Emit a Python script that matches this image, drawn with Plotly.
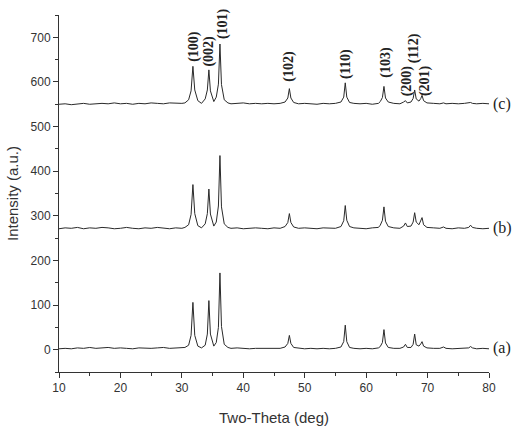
import plotly.graph_objects as go

# Shared 2-theta sample positions (deg)
two_theta = [10, 11, 12, 13, 14, 15, 16, 17, 18, 19, 20, 21, 22, 23, 24, 25, 26, 27, 28, 29, 30,
             30.5, 31.1, 31.5, 31.8, 32.1, 32.6, 33.2, 33.8, 34.15, 34.4, 34.65, 35.2, 35.6, 35.95, 36.2, 36.45, 36.9,
             37.5, 38, 39, 40, 41, 42, 43, 44, 45, 46, 46.8, 47.25, 47.5, 47.75, 48.2, 49, 50, 51, 52, 53, 54, 55,
             55.9, 56.35, 56.6, 56.85, 57.3, 58, 59, 60, 61, 62, 62.3, 62.65, 62.9, 63.15, 63.6, 64.5, 65.5,
             66.1, 66.4, 66.7, 67.3, 67.65, 67.9, 68.15, 68.6, 68.9, 69.1, 69.35, 69.9, 71, 72, 72.6, 73,
             74, 75, 76, 76.7, 77, 77.3, 78, 79, 80]

intensity_a = [2, 3, 2, 4, 3, 5, 3, 4, 5, 3, 4, 3, 2, 4, 3, 3, 4, 5, 3, 4, 4,
               5, 10, 32, 106, 32, 8, 4, 10, 35, 110, 35, 8, 16, 50, 172, 52, 12,
               5, 3, 4, 3, 2, 3, 3, 2, 3, 3, 6, 14, 32, 14, 5, 3, 2, 3, 2, 3, 2, 3,
               6, 18, 55, 18, 5, 3, 2, 3, 2, 4, 7, 16, 45, 15, 5, 3, 3,
               6, 12, 5, 5, 12, 35, 11, 8, 13, 18, 8, 4, 3, 3, 6, 3,
               2, 3, 3, 4, 7, 4, 2, 3, 2]

intensity_b = [271, 273, 272, 274, 271, 273, 272, 274, 273, 271, 272, 274, 272, 271, 273, 272, 274, 272, 271, 273, 272,
               274, 280, 303, 370, 305, 278, 273, 282, 305, 360, 304, 277, 286, 322, 435, 320, 282,
               274, 272, 273, 271, 272, 273, 272, 271, 273, 272, 276, 285, 305, 285, 275, 272, 273, 272, 271, 273, 272, 272,
               276, 289, 323, 290, 276, 273, 272, 271, 273, 274, 279, 290, 320, 288, 276, 273, 272,
               277, 284, 276, 277, 286, 307, 286, 280, 288, 296, 280, 274, 273, 272, 275, 272,
               271, 273, 272, 274, 279, 274, 272, 271, 272]

intensity_c = [550, 551, 549, 551, 552, 550, 551, 552, 551, 553, 551, 552, 550, 552, 551, 553, 552, 551, 553, 552, 552,
               553, 560, 580, 635, 582, 558, 552, 562, 582, 627, 580, 556, 566, 595, 685, 594, 560,
               553, 551, 552, 553, 551, 552, 551, 552, 551, 552, 555, 564, 585, 564, 554, 551, 552, 551, 550, 552, 551, 552,
               555, 566, 598, 566, 554, 552, 551, 552, 550, 552, 556, 565, 590, 564, 555, 552, 551,
               555, 558, 553, 555, 563, 582, 562, 557, 563, 570, 558, 553, 552, 551, 553, 551,
               552, 551, 552, 553, 554, 552, 551, 552, 551]

series_labels = ["(a)", "(b)", "(c)"]
series_offsets = [3, 272, 551]

peak_labels = ["(100)", "(002)", "(101)", "(102)", "(110)", "(103)", "(200)", "(112)", "(201)"]
peak_label_x = [32.0, 34.4, 36.8, 47.5, 56.6, 63.3, 66.6, 67.9, 69.5]
peak_label_y = [679, 670, 731, 635, 641, 644, 603, 675, 603]

fig = go.Figure()
for ys in (intensity_a, intensity_b, intensity_c):
    fig.add_trace(go.Scatter(x=two_theta, y=ys, mode="lines",
                             line=dict(color="#2a2a2a", width=1), showlegend=False,
                             hoverinfo="skip"))

for lab, yo in zip(series_labels, series_offsets):
    fig.add_annotation(x=1.005, xref="paper", y=yo, yref="y", text=lab, showarrow=False,
                       xanchor="left", yanchor="middle",
                       font=dict(family="Liberation Serif", size=16, color="#222"))

for lab, px, py in zip(peak_labels, peak_label_x, peak_label_y):
    fig.add_annotation(x=px, y=py, text="<b>%s</b>" % lab, showarrow=False, textangle=-90,
                       xanchor="center", yanchor="middle",
                       font=dict(family="Liberation Serif", size=14, color="#222"))

axis_common = dict(showline=True, linecolor="#333", linewidth=1, ticks="outside", ticklen=5,
                   tickwidth=1, tickcolor="#333", showgrid=False, zeroline=False, mirror=False,
                   tickfont=dict(family="Liberation Sans", size=12, color="#333"))

fig.update_xaxes(range=[10, 80], tickvals=[10, 20, 30, 40, 50, 60, 70, 80],
                 minor=dict(ticks="outside", ticklen=3, tickcolor="#333", dtick=5, tick0=5),
                 title=dict(text="Two-Theta (deg)", font=dict(family="Liberation Sans", size=15, color="#333"),
                            standoff=18),
                 **axis_common)
fig.update_yaxes(range=[-50, 750], tickvals=[0, 100, 200, 300, 400, 500, 600, 700],
                 minor=dict(ticks="outside", ticklen=3, tickcolor="#333", dtick=50, tick0=50),
                 title=dict(text="Intensity (a.u.)", font=dict(family="Liberation Sans", size=15, color="#333"),
                            standoff=8),
                 **axis_common)

fig.update_layout(width=531, height=436, margin=dict(l=56, r=42, t=15, b=63),
                  plot_bgcolor="white", paper_bgcolor="white")

fig.write_html("out.html")
